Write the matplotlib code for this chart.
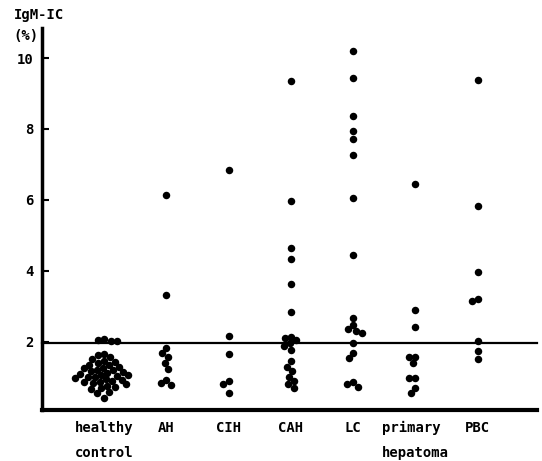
import numpy as np
import matplotlib
matplotlib.use('Agg')
import matplotlib.pyplot as plt

# IgM-IC (%) by diagnosis
groups = ['healthy\ncontrol', 'AH', 'CIH', 'CAH', 'LC', 'primary\nhepatoma', 'PBC']
healthy = [2.08, 2.05, 2.03, 2.02, 1.65, 1.62, 1.56, 1.52, 1.46, 1.44, 1.40, 1.36,
           1.34, 1.30, 1.27, 1.25, 1.22, 1.20, 1.17, 1.15, 1.13, 1.10, 1.08, 1.06,
           1.04, 1.02, 1.00, 0.98, 0.95, 0.93, 0.90, 0.88, 0.86, 0.83, 0.80, 0.77,
           0.74, 0.70, 0.66, 0.60, 0.55, 0.42]
ah = [6.15, 3.32, 1.83, 1.69, 1.58, 1.41, 1.24, 0.93, 0.85, 0.79]
cih = [6.85, 2.17, 1.66, 0.90, 0.82, 0.56]
cah = [9.35, 5.97, 4.65, 4.34, 3.63, 2.85, 2.15, 2.10, 2.05, 1.97, 1.88, 1.76,
       1.45, 1.30, 1.18, 1.02, 0.90, 0.80, 0.70]
lc = [10.2, 9.44, 8.37, 7.94, 7.72, 7.27, 6.06, 4.45, 2.68, 2.48, 2.36, 2.32,
      2.25, 1.97, 1.69, 1.55, 0.86, 0.80, 0.73]
hepatoma = [6.45, 2.90, 2.41, 1.58, 1.56, 1.41, 0.99, 0.98, 0.70, 0.56]
pbc = [9.38, 5.83, 3.97, 3.21, 3.15, 2.03, 1.75, 1.52]
cutoff = 1.97

series = [healthy, ah, cih, cah, lc, hepatoma, pbc]

font = 'DejaVu Sans Mono'
plt.rcParams['font.family'] = font
plt.rcParams['font.weight'] = 'bold'

fig = plt.figure(figsize=(5.42, 4.61), dpi=100)
ax = fig.add_axes([0.0775, 0.1106, 0.913, 0.829])
ax.set_xlim(0.0, 7.95)
ax.set_ylim(0.08, 10.85)


def swarm(vals, center, dist):
    # simple beeswarm: push each dot sideways until it stops overlapping
    pts = ax.transData.transform(np.column_stack([np.full(len(vals), center), vals]))
    ys = pts[:, 1]
    px_per_unit = ax.transData.transform((1, 0))[0] - ax.transData.transform((0, 0))[0]
    placed = []
    xs = np.zeros(len(vals))
    for i in np.argsort(-ys):
        y = ys[i]
        spans = []
        for px, py in placed:
            dy = abs(py - y)
            if dy < dist:
                h = np.sqrt(dist * dist - dy * dy)
                spans.append((px - h, px + h))
        cands = [0.0] + [a for a, b in spans] + [b for a, b in spans]
        cands.sort(key=abs)
        for c in cands:
            if all(not (a + 1e-6 < c < b - 1e-6) for a, b in spans):
                break
        xs[i] = c
        placed.append((c, y))
    return center + xs / px_per_unit


for pos, vals in enumerate(series, start=1):
    xs = swarm(vals, pos, 6.5)
    ax.plot(xs, vals, 'o', color='black', ms=5.4, mew=0)

ax.axhline(cutoff, color='black', lw=1.6, clip_on=False)

for side in ['top', 'right']:
    ax.spines[side].set_visible(False)
ax.spines['left'].set_linewidth(2.5)
ax.spines['bottom'].set_linewidth(3)

ax.set_yticks([2, 4, 6, 8, 10])
ax.set_xticks(range(1, len(groups) + 1))
ax.set_xticklabels(groups)
ax.tick_params(axis='y', direction='in', length=5, width=1.5, pad=6, labelsize=10)
ax.tick_params(axis='x', length=0, pad=8, labelsize=10)
for lbl in ax.get_xticklabels():
    lbl.set_multialignment('left')
    lbl.set_linespacing(2.0)

fig.text(14 / 542, 1 - 15 / 461, 'IgM-IC', va='center', ha='left', fontsize=10)
fig.text(13 / 542, 1 - 36 / 461, '(%)', va='center', ha='left', fontsize=10)

fig.savefig('out.png', dpi=100, facecolor='white')
